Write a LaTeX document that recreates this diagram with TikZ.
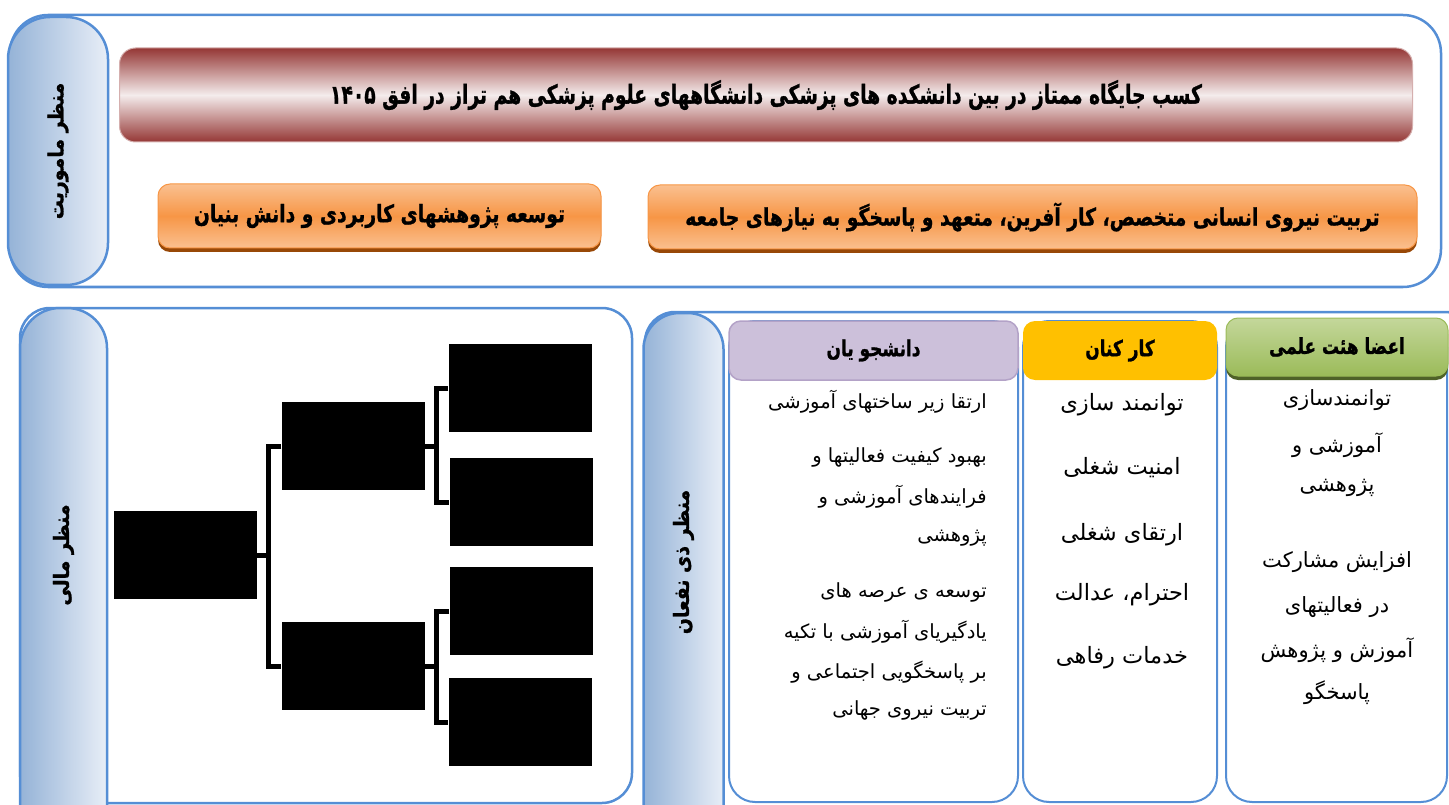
\documentclass[tikz,border=0pt]{standalone}
\usepackage{fontspec}
\usepackage{graphicx}
\usetikzlibrary{positioning,calc,shadows}
\TeXXeTstate=1
\newfontfamily\arabicfont[Script=Arabic]{DejaVu Sans}
\newfontfamily\titlefont[Script=Arabic, FakeBold=1.2]{DejaVu Sans Bold}
\newcommand{\rtl}[1]{\beginR#1\endR}

\definecolor{rimblue}{RGB}{85,142,213}
\definecolor{pillleft}{RGB}{149,179,215}
\definecolor{pillright}{RGB}{232,238,247}
\definecolor{wine}{RGB}{149,55,53}
\definecolor{winelight}{RGB}{244,236,236}
\definecolor{orangelight}{RGB}{250,192,144}
\definecolor{orangemid}{RGB}{247,150,70}
\definecolor{orangeshadow}{RGB}{152,72,7}
\definecolor{lilac}{RGB}{204,192,218}
\definecolor{lilacrim}{RGB}{179,162,199}
\definecolor{amber}{RGB}{255,192,0}
\definecolor{greenlight}{RGB}{196,215,155}
\definecolor{greenmid}{RGB}{155,187,89}
\definecolor{greenshadow}{RGB}{79,98,40}

\tikzset{
    panel/.style={draw=rimblue, line width=2.5pt, rounded corners=38pt},
    pill/.style={draw=rimblue, line width=2.5pt, left color=pillleft, right color=pillright, rounded corners=42pt, minimum width=96pt},
    sidelabel/.style={rotate=90, font=\titlefont\fontsize{21}{24}\selectfont},
    banner/.style={draw=wine!40, line width=1pt, rounded corners=16pt, top color=wine, bottom color=wine, middle color=winelight,
        minimum width=1293pt, minimum height=94pt, font=\titlefont\fontsize{26}{29}\selectfont},
    goal/.style={draw=orangemid, line width=1pt, rounded corners=12pt, top color=orangelight, bottom color=orangelight, middle color=orangemid,
        drop shadow={shadow xshift=0pt, shadow yshift=-4pt, fill=orangeshadow, opacity=1},
        minimum height=64pt, font=\titlefont\fontsize{24}{27}\selectfont},
    finbox/.style={fill=black, minimum width=143pt, minimum height=88pt},
    link/.style={line width=5pt, line join=miter},
    column/.style={draw=rimblue, line width=2pt, fill=white, rounded corners=26pt, minimum height=481pt},
    head/.style={rounded corners=12pt, minimum height=59pt, font=\titlefont\fontsize{22}{25}\selectfont},
    bodytext/.style={font=\arabicfont\fontsize{19.5}{22}\selectfont, inner sep=0pt}
}

\begin{document}
\begin{tikzpicture}[x=1pt,y=-1pt]
    \useasboundingbox (0,0) rectangle (1449,805);
    \clip (0,0) rectangle (1449,805);

    % Mission
    \node[panel, minimum width=1431pt, minimum height=272pt] (mission) at (725.5,151) {};
    \node[pill, minimum width=100pt, minimum height=268pt] (missionpill) at (58,151) {};
    \node[sidelabel] (missionlabel) at (missionpill) {\scalebox{0.9}[1]{\beginR منظر ماموریت\endR}};
    \node[banner] (vision) at (766,95) {\scalebox{0.72}[1]{\beginR کسب جایگاه ممتاز در بین دانشکده های پزشکی دانشگاههای علوم پزشکی هم تراز در افق \beginL۱۴۰۵\endL\endR}};
    \node[goal, minimum width=443pt] (research) at (379.5,216) {\scalebox{0.78}[1]{\beginR توسعه پژوهشهای کاربردی و دانش بنیان\endR}};
    \node[goal, minimum width=769pt] (training) at (1032.5,217) {\scalebox{0.78}[1]{\beginR تربیت نیروی انسانی متخصص، کار آفرین، متعهد و پاسخگو به نیازهای جامعه\endR}};

    % Financial
    \node[panel, rounded corners=30pt, minimum width=612pt, minimum height=495pt] (finance) at (326,555.5) {};
    \node[pill, minimum width=87pt, rounded corners=40pt, minimum height=540pt] (financepill) at (63.5,578) {};
    \node[sidelabel] (financelabel) at (63.5,555) {\scalebox{0.9}[1]{\beginR منظر مالی\endR}};
    \node[finbox] (root) at (185,555) {};
    \node[finbox] (mida) at (353,446) {};
    \node[finbox] (midb) at (353,666) {};
    \node[finbox] (lefta) at (520,388) {};
    \node[finbox] (leftb) at (521,502) {};
    \node[finbox] (leftc) at (521,611) {};
    \node[finbox] (leftd) at (520,722) {};
    \draw[link] (mida.west) -| ($(root.east)+(12,0)$) |- (midb.west);
    \draw[link] (root.east) -- ++(12,0);
    \draw[link] (lefta.west) -| ($(mida.east)+(12,0)$) |- (leftb.west);
    \draw[link] (mida.east) -- ++(12,0);
    \draw[link] (leftc.west) -| ($(midb.east)+(12,0)$) |- (leftd.west);
    \draw[link] (midb.east) -- ++(12,0);

    % Stakeholders
    \node[panel, rounded corners=30pt, minimum width=830pt, minimum height=520pt] (stake) at (1060,572) {};
    \node[pill, minimum width=80pt, rounded corners=36pt, minimum height=540pt] (stakepill) at (683.5,583) {};
    \node[sidelabel] (stakelabel) at (683.5,562) {\scalebox{0.9}[1]{\beginR منظر ذی نفعان\endR}};

    \node[column, minimum width=289pt] (students) at (873.5,561.5) {};
    \node[column, minimum width=194pt] (staff) at (1120,561.5) {};
    \node[column, minimum width=221pt] (faculty) at (1336.5,561.5) {};

    \node[head, fill=lilac, draw=lilacrim, line width=1.5pt, minimum width=289pt] (studentshead) at (873.5,350.5) {\scalebox{0.77}[1]{\beginR دانشجو یان\endR}};
    \node[head, fill=amber, minimum width=194pt] (staffhead) at (1120,350.5) {\scalebox{0.77}[1]{\beginR کار کنان\endR}};
    \node[head, draw=greenmid, line width=1pt, top color=greenlight, bottom color=greenmid,
        drop shadow={shadow xshift=0pt, shadow yshift=-4pt, fill=greenshadow, opacity=1},
        minimum width=222pt, minimum height=58pt] (facultyhead) at (1337,347) {\scalebox{0.77}[1]{\beginR اعضا هئت علمی\endR}};

    % Column texts
    \foreach \txt/\yy [count=\i] in {ارتقا زیر ساختهای آموزشی/402, بهبود کیفیت فعالیتها و/457, فرایندهای آموزشی و/497, پژوهشی/538,
        توسعه ی عرصه های/592, یادگیریای آموزشی با تکیه/632, بر پاسخگویی اجتماعی و/672, تربیت نیروی جهانی/710}
        \node[bodytext, anchor=east] (studentline\i) at (987,\yy) {\rtl{\txt}};
    \foreach \txt/\yy [count=\i] in {توانمند سازی/405, امنیت شغلی/468, ارتقای شغلی/535, احترام، عدالت/595, خدمات رفاهی/658}
        \node[bodytext, font=\arabicfont\fontsize{22.5}{25}\selectfont] (staffline\i) at (1122,\yy) {\rtl{\txt}};
    \foreach \txt/\yy [count=\i] in {توانمندسازی/400, آموزشی و/445, پژوهشی/488,
        افزایش مشارکت/562, در فعالیتهای/607, آموزش و پژوهش/650, پاسخگو/693}
        \node[bodytext, font=\arabicfont\fontsize{21}{24}\selectfont] (facultyline\i) at (1337,\yy) {\rtl{\txt}};
\end{tikzpicture}
\end{document}
